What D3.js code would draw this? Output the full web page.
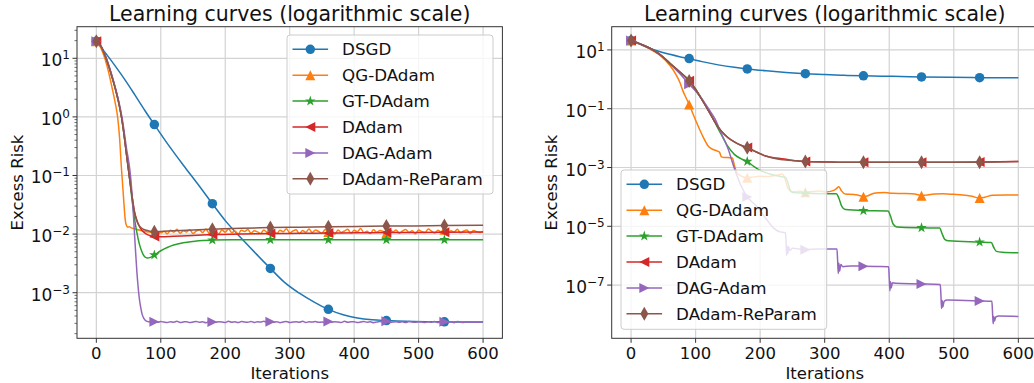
<!DOCTYPE html>
<html>
<head>
<meta charset="utf-8">
<script src="https://cdn.jsdelivr.net/npm/d3@7"></script>
<style>
  body { margin: 0; background: #fff; }
  svg text { font-family: "DejaVu Sans", sans-serif; fill: #111; }
</style>
</head>
<body>
<div id="chart"></div>
<script>
// series names / styling order (matplotlib tab10)
const names = ['DSGD', 'QG-DAdam', 'GT-DAdam', 'DAdam', 'DAG-Adam', 'DAdam-ReParam'];
const colors = ['#1f77b4', '#ff7f0e', '#2ca02c', '#d62728', '#9467bd', '#8c564b'];
const markerTypes = ['circle', 'triUp', 'star', 'triLeft', 'triRight', 'thinDiamond'];
const markIters = [0, 90, 180, 270, 360, 450, 540];

const xTicks = [0, 100, 200, 300, 400, 500, 600];
const leftYTicks = [1e-3, 1e-2, 1e-1, 1, 10];
const rightYTicks = [1e-7, 1e-5, 1e-3, 1e-1, 10];

// ---------- left panel: [iteration, excess risk] ----------
const dsgdLeft = [[0,19.5],[15,12],[30,7.2],[45,4.2],[60,2.35],[75,1.3],[90,0.74],[112,0.33],[135,0.15],[158,0.07],[180,0.033],[202,0.016],[225,0.0085],[248,0.0046],[270,0.0026],[292,0.0015],[315,0.00098],[338,0.00069],[360,0.00052],[383,0.00042],[405,0.00037],[428,0.000345],[450,0.000335],[480,0.000325],[510,0.00032],[540,0.000318],[570,0.000316],[600,0.000315]];

const qgLeftHead = [[0,19.5],[7,15],[14,9.3],[19,5.8],[24,3.3],[29,1.8],[33,1.0],[36,0.45],[39,0.13],[42,0.045],[45,0.017],[47,0.0138],[49,0.0131],[51,0.0134],[54,0.0128],[58,0.0125],[63,0.012],[70,0.0115],[78,0.011],[86,0.0107],[90,0.0105],[95,0.0104]];
// iterations 100..600 step 5
const qgLeftTail = [
  0.0105,0.0112,0.0101,0.0116,0.0108,0.0121,0.0103,0.0114,0.0109,0.0119,
  0.0102,0.0113,0.0118,0.0106,0.0122,0.0104,0.0115,0.0110,0.0101,0.0117,
  0.0108,0.0123,0.0106,0.0113,0.0100,0.0116,0.0111,0.0120,0.0104,0.0114,
  0.0109,0.0102,0.0118,0.0107,0.0121,0.0112,0.0103,0.0116,0.0110,0.0124,
  0.0105,0.0113,0.0119,0.0101,0.0115,0.0108,0.0122,0.0106,0.0117,0.0111,
  0.0103,0.0120,0.0109,0.0114,0.0100,0.0118,0.0107,0.0113,0.0121,0.0104,
  0.0116,0.0110,0.0125,0.0106,0.0112,0.0102,0.0119,0.0108,0.0115,0.0111,
  0.0104,0.0121,0.0109,0.0117,0.0103,0.0113,0.0120,0.0107,0.0114,0.0101,
  0.0118,0.0110,0.0106,0.0122,0.0112,0.0104,0.0116,0.0109,0.0119,0.0103,
  0.0114,0.0108,0.0121,0.0105,0.0113,0.0117,0.0102,0.0115,0.0110,0.0107,
  0.0111];

const gtLeft = [[0,19.5],[8,15.5],[16,9.5],[24,5.0],[30,2.9],[35,1.7],[39,1.0],[43,0.5],[47,0.22],[51,0.1],[55,0.042],[59,0.019],[63,0.0105],[67,0.0066],[71,0.0049],[75,0.0041],[79,0.0039],[84,0.004],[90,0.0044],[100,0.0052],[110,0.0059],[120,0.0065],[135,0.0071],[150,0.0075],[165,0.0078],[180,0.0079],[210,0.008],[270,0.008],[360,0.008],[450,0.008],[540,0.008],[600,0.008]];

const daLeft = [[0,19.5],[8,15.5],[16,9.5],[24,5.0],[30,2.9],[35,1.7],[39,1.0],[43,0.5],[47,0.22],[51,0.1],[55,0.048],[59,0.025],[63,0.017],[68,0.0128],[74,0.0107],[80,0.0097],[90,0.0091],[100,0.009],[120,0.0092],[150,0.0095],[180,0.0098],[225,0.01],[270,0.0102],[315,0.0103],[360,0.0104],[405,0.0105],[450,0.0106],[495,0.0107],[540,0.0108],[600,0.0109]];

const dagLeftHead = [[0,19.5],[8,15.5],[16,9.6],[24,5.2],[30,3.0],[35,1.8],[39,1.1],[43,0.58],[47,0.28],[50,0.18],[53,0.1],[55,0.055],[57,0.027],[59,0.011],[61,0.0048],[63,0.0022],[65,0.0012],[67,0.00075],[69,0.00055],[71,0.00043],[74,0.00036],[77,0.00033],[81,0.00032],[85,0.000318]];
// iterations 90..600 step 5
const dagLeftTail = [
  3.18e-4,3.12e-4,3.22e-4,3.15e-4,3.10e-4,3.20e-4,3.14e-4,3.25e-4,3.11e-4,3.17e-4,
  3.21e-4,3.09e-4,3.16e-4,3.23e-4,3.13e-4,3.19e-4,3.08e-4,3.24e-4,3.15e-4,3.12e-4,
  3.20e-4,3.17e-4,3.11e-4,3.26e-4,3.14e-4,3.18e-4,3.09e-4,3.22e-4,3.16e-4,3.13e-4,
  3.24e-4,3.10e-4,3.19e-4,3.15e-4,3.27e-4,3.12e-4,3.18e-4,3.14e-4,3.21e-4,3.08e-4,
  3.17e-4,3.23e-4,3.11e-4,3.16e-4,3.20e-4,3.13e-4,3.25e-4,3.10e-4,3.19e-4,3.15e-4,
  3.22e-4,3.12e-4,3.17e-4,3.09e-4,3.24e-4,3.14e-4,3.20e-4,3.16e-4,3.11e-4,3.26e-4,
  3.13e-4,3.18e-4,3.21e-4,3.10e-4,3.15e-4,3.23e-4,3.12e-4,3.19e-4,3.08e-4,3.17e-4,
  3.22e-4,3.14e-4,3.25e-4,3.11e-4,3.16e-4,3.20e-4,3.13e-4,3.18e-4,3.09e-4,3.24e-4,
  3.15e-4,3.12e-4,3.21e-4,3.17e-4,3.10e-4,3.19e-4,3.14e-4,3.23e-4,3.11e-4,3.16e-4,
  3.20e-4,3.13e-4,3.18e-4,3.08e-4,3.22e-4,3.15e-4,3.11e-4,3.19e-4,3.14e-4,3.17e-4,
  3.12e-4,3.16e-4,3.15e-4];

const repLeft = [[0,19.5],[8,15.5],[16,9.3],[24,4.9],[30,2.85],[35,1.68],[39,1.0],[43,0.5],[47,0.22],[51,0.1],[55,0.047],[59,0.024],[64,0.0155],[70,0.0127],[78,0.0116],[85,0.0111],[90,0.011],[100,0.0111],[120,0.0114],[150,0.0118],[180,0.0121],[225,0.0126],[270,0.0129],[315,0.0131],[360,0.0133],[405,0.0135],[450,0.0137],[495,0.0138],[540,0.014],[600,0.0142]];

// ---------- right panel ----------
const dsgdRight = [[0,21],[15,15.2],[30,11.2],[45,8.7],[60,7.1],[75,5.9],[90,5.06],[110,4.0],[135,3.1],[160,2.55],[180,2.26],[210,1.95],[240,1.72],[270,1.56],[300,1.45],[330,1.37],[360,1.31],[405,1.26],[450,1.21],[495,1.17],[540,1.14],[600,1.12]];

const qgRight = [[0,21],[15,15.5],[30,10.5],[45,6.5],[60,3.0],[70,1.4],[76,0.75],[80,0.42],[85,0.24],[90,0.14],[95,0.075],[102,0.032],[110,0.013],[120,0.0052],[127,0.0041],[133,0.0037],[137,0.0033],[140,0.0023],[145,0.0022],[150,0.0022],[157,0.0021],[160,0.0012],[164,0.00066],[170,0.00052],[180,0.00045],[190,0.00048],[200,0.0005],[210,0.00049],[220,0.00052],[228,0.00056],[234,0.0006],[238,0.00045],[242,0.00022],[246,0.00016],[252,0.00015],[262,0.000155],[270,0.000145],[282,0.000152],[292,0.00016],[302,0.000148],[312,0.00016],[318,0.00019],[322,0.00022],[326,0.00016],[332,0.000125],[345,0.00012],[355,0.00011],[360,0.000102],[366,0.000108],[375,0.00013],[385,0.000138],[393,0.00014],[405,0.000132],[420,0.00013],[435,0.000128],[445,0.000118],[450,0.00011],[457,0.000115],[470,0.000125],[484,0.000127],[500,0.000122],[514,0.000117],[528,0.000105],[540,0.000091],[548,0.000098],[560,0.000113],[580,0.000117],[600,0.000117]];

const gtRight = [[0,21],[15,15.8],[30,11.2],[45,7.0],[60,3.6],[75,1.85],[90,0.92],[100,0.47],[110,0.21],[120,0.09],[130,0.034],[140,0.013],[150,0.0052],[160,0.0028],[170,0.002],[180,0.0016],[190,0.0011],[200,0.0008],[215,0.0006],[230,0.0005],[239,0.00047],[243,0.0003],[246,0.00018],[250,0.00014],[270,0.000132],[300,0.000128],[318,0.000127],[322,0.00009],[326,0.00005],[332,0.000037],[360,0.000034],[398,0.000033],[402,0.000022],[406,0.000012],[412,0.0000095],[450,0.0000089],[478,0.0000087],[482,0.0000055],[486,0.0000036],[492,0.0000032],[540,0.0000029],[558,0.0000028],[562,0.0000019],[566,0.0000014],[575,0.0000013],[600,0.00000125]];

const daRight = [[0,21],[15,15.8],[30,11.2],[45,6.9],[60,3.5],[75,1.8],[90,0.9],[100,0.45],[110,0.2],[120,0.085],[130,0.035],[140,0.017],[150,0.0105],[160,0.0075],[170,0.0058],[180,0.0048],[195,0.0033],[210,0.0024],[225,0.0021],[240,0.0019],[255,0.0017],[270,0.0016],[300,0.00155],[330,0.0015],[360,0.0015],[405,0.0015],[450,0.00151],[495,0.00152],[540,0.00153],[600,0.0016]];

const dagRight = [[0,21],[15,15.8],[30,11.2],[45,6.8],[60,3.4],[75,1.6],[90,0.68],[100,0.4],[110,0.21],[120,0.1],[130,0.045],[140,0.014],[150,0.0045],[160,0.00095],[170,0.00025],[180,0.0001],[195,0.000047],[210,0.000017],[220,0.000009],[230,0.0000065],[239,0.000006],[240,0.0000035],[241,0.000001],[242,0.0000021],[243,0.0000012],[244,0.000002],[246,0.0000015],[250,0.0000018],[260,0.0000017],[270,0.0000016],[290,0.0000017],[319,0.0000017],[320,0.0000007],[321,0.00000025],[322,0.00000055],[323,0.0000003],[325,0.0000005],[328,0.00000042],[340,0.00000045],[360,0.00000044],[380,0.00000043],[399,0.00000042],[400,0.00000018],[401,0.000000064],[402,0.00000013],[403,0.00000008],[405,0.00000012],[410,0.000000115],[450,0.00000011],[479,0.000000105],[480,0.00000005],[481,0.000000016],[482,0.00000003],[483,0.000000018],[485,0.000000028],[490,0.000000031],[540,0.000000029],[559,0.000000028],[560,0.000000012],[561,0.0000000048],[562,0.0000000085],[563,0.000000006],[565,0.0000000082],[570,0.0000000088],[600,0.0000000085]];

const repRight = [[0,21],[15,15.8],[30,11.2],[45,6.9],[60,3.5],[75,1.8],[90,0.88],[100,0.44],[110,0.2],[120,0.084],[130,0.035],[140,0.017],[150,0.0104],[160,0.0074],[170,0.0057],[180,0.0047],[195,0.0033],[210,0.0024],[225,0.002],[240,0.0018],[255,0.0017],[270,0.0016],[300,0.00154],[330,0.0015],[360,0.0015],[405,0.0015],[450,0.0015],[495,0.00151],[540,0.00152],[600,0.0016]];

// glue noisy tails onto their heads
const zip = (iters, vals) => iters.map((it, i) => [it, vals[i]]);
const qgLeft = qgLeftHead.concat(zip(d3.range(100, 601, 5), qgLeftTail));
const dagLeft = dagLeftHead.concat(zip(d3.range(90, 601, 5), dagLeftTail));

const leftSeries = [dsgdLeft, qgLeft, gtLeft, daLeft, dagLeft, repLeft];
const rightSeries = [dsgdRight, qgRight, gtRight, daRight, dagRight, repRight];

const W = 1034, H = 383;
const svg = d3.select('#chart').append('svg')
  .attr('width', W).attr('height', H)
  .style('display', 'block');

function markerPath(type, s) {
  const h = s / 2;
  if (type === 'circle') {
    const r = h * 0.95;
    return `M${r},0A${r},${r} 0 1 1 ${-r},0A${r},${r} 0 1 1 ${r},0Z`;
  }
  if (type === 'triUp') return `M0,${-h}L${h},${h}L${-h},${h}Z`;
  if (type === 'triLeft') return `M${-h},0L${h},${-h}L${h},${h}Z`;
  if (type === 'triRight') return `M${h},0L${-h},${-h}L${-h},${h}Z`;
  if (type === 'thinDiamond') return `M0,${-h * 1.4}L${h * 0.8},0L0,${h * 1.4}L${-h * 0.8},0Z`;
  if (type === 'star') {
    let p = '';
    for (let k = 0; k < 10; k++) {
      const rr = k % 2 === 0 ? h * 1.1 : h * 1.1 * 0.382;
      const a = -Math.PI / 2 + k * Math.PI / 5;
      p += (k === 0 ? 'M' : 'L') + (rr * Math.cos(a)).toFixed(2) + ',' + (rr * Math.sin(a)).toFixed(2);
    }
    return p + 'Z';
  }
}

function powLabel(sel, v) {
  const e = Math.round(Math.log10(v));
  sel.append('tspan').text('10');
  sel.append('tspan')
    .attr('dy', -7)
    .style('font-size', '12px')
    .text(e < 0 ? '\u2212' + (-e) : String(e));
}

function drawPanel(cfg) {
  const x = d3.scaleLinear().domain([-30, 630]).range([cfg.x0, cfg.x1]);
  const y = d3.scaleLog().domain(cfg.yDomain).range([cfg.y1, cfg.y0]);
  const g = svg.append('g');

  const clipId = 'clip' + cfg.id;
  svg.append('clipPath').attr('id', clipId)
    .append('rect')
    .attr('x', cfg.x0).attr('y', cfg.y0)
    .attr('width', cfg.x1 - cfg.x0).attr('height', cfg.y1 - cfg.y0);

  // grid
  g.selectAll('.gx').data(xTicks).enter().append('line')
    .attr('x1', d => x(d)).attr('x2', d => x(d))
    .attr('y1', cfg.y0).attr('y2', cfg.y1)
    .attr('stroke', '#d3d3d3').attr('stroke-width', 1.2);
  g.selectAll('.gy').data(cfg.yTicks).enter().append('line')
    .attr('x1', cfg.x0).attr('x2', cfg.x1)
    .attr('y1', d => y(d)).attr('y2', d => y(d))
    .attr('stroke', '#d3d3d3').attr('stroke-width', 1.2);

  // curves + markers
  const line = d3.line().curve(d3.curveMonotoneX).x(d => x(d[0])).y(d => y(d[1]));
  const plot = g.append('g').attr('clip-path', `url(#${clipId})`);
  cfg.series.forEach((data, i) => {
    plot.append('path')
      .datum(data)
      .attr('d', line)
      .attr('fill', 'none')
      .attr('stroke', colors[i])
      .attr('stroke-width', 1.5)
      .attr('stroke-linejoin', 'round');
    const marks = data.filter(d => markIters.includes(d[0]));
    plot.selectAll(null).data(marks).enter().append('path')
      .attr('d', markerPath(markerTypes[i], 10))
      .attr('transform', d => `translate(${x(d[0])},${y(d[1])})`)
      .attr('fill', colors[i]);
  });

  // spines
  g.append('rect')
    .attr('x', cfg.x0).attr('y', cfg.y0)
    .attr('width', cfg.x1 - cfg.x0).attr('height', cfg.y1 - cfg.y0)
    .attr('fill', 'none').attr('stroke', '#333').attr('stroke-width', 1);

  // x ticks
  xTicks.forEach(t => {
    g.append('line')
      .attr('x1', x(t)).attr('x2', x(t))
      .attr('y1', cfg.y1).attr('y2', cfg.y1 + 4.5)
      .attr('stroke', '#333');
    g.append('text')
      .attr('x', x(t)).attr('y', cfg.y1 + 20.5)
      .attr('text-anchor', 'middle')
      .style('font-size', '16.5px')
      .text(t);
  });

  // y ticks (major)
  cfg.yTicks.forEach(t => {
    g.append('line')
      .attr('x1', cfg.x0 - 4.5).attr('x2', cfg.x0)
      .attr('y1', y(t)).attr('y2', y(t))
      .attr('stroke', '#333');
    const txt = g.append('text')
      .attr('x', cfg.x0 - 7).attr('y', y(t) + 8)
      .attr('text-anchor', 'end')
      .style('font-size', '17px');
    powLabel(txt, t);
  });

  // minor y ticks
  if (cfg.minor) {
    const [lo, hi] = cfg.yDomain;
    for (let e = Math.floor(Math.log10(lo)); e <= Math.ceil(Math.log10(hi)); e++) {
      for (let m = 2; m <= 9; m++) {
        const v = m * Math.pow(10, e);
        if (v < lo || v > hi) continue;
        g.append('line')
          .attr('x1', cfg.x0 - 2.5).attr('x2', cfg.x0)
          .attr('y1', y(v)).attr('y2', y(v))
          .attr('stroke', '#333').attr('stroke-width', 0.7);
      }
    }
  }

  // title + axis labels
  g.append('text')
    .attr('x', (cfg.x0 + cfg.x1) / 2).attr('y', 20.5)
    .attr('text-anchor', 'middle')
    .style('font-size', '20.5px')
    .text('Learning curves (logarithmic scale)');
  g.append('text')
    .attr('x', (cfg.x0 + cfg.x1) / 2).attr('y', 379)
    .attr('text-anchor', 'middle')
    .style('font-size', '16.5px')
    .text('Iterations');
  g.append('text')
    .attr('transform', `translate(${cfg.ylabelX},${(cfg.y0 + cfg.y1) / 2}) rotate(-90)`)
    .attr('text-anchor', 'middle')
    .style('font-size', '16.5px')
    .text('Excess Risk');

  // legend
  const lg = g.append('g');
  lg.append('rect')
    .attr('x', cfg.legend.x).attr('y', cfg.legend.y)
    .attr('width', cfg.legend.w).attr('height', cfg.legend.h)
    .attr('rx', 3)
    .attr('fill', '#fff').attr('fill-opacity', 0.8)
    .attr('stroke', '#cccccc').attr('stroke-width', 1);
  names.forEach((n, i) => {
    const ly = cfg.legend.y + 14.3 + i * 25.9;
    const lx = cfg.legend.x + 5.5;
    lg.append('line')
      .attr('x1', lx).attr('x2', lx + 35.6)
      .attr('y1', ly).attr('y2', ly)
      .attr('stroke', colors[i]).attr('stroke-width', 1.5);
    lg.append('path')
      .attr('d', markerPath(markerTypes[i], 10))
      .attr('transform', `translate(${lx + 17.8},${ly})`)
      .attr('fill', colors[i]);
    lg.append('text')
      .attr('x', lx + 49.6).attr('y', ly + 6)
      .style('font-size', '16.7px')
      .text(n);
  });
}

drawPanel({
  id: 'L', x0: 77, x1: 502.4, y0: 26.7, y1: 338.3,
  yDomain: [Math.pow(10, -3.778), Math.pow(10, 1.539)],
  yTicks: leftYTicks, minor: true, series: leftSeries, ylabelX: 23.3,
  legend: { x: 287, y: 35, w: 206, h: 159 }
});

drawPanel({
  id: 'R', x0: 611.7, x1: 1037.7, y0: 26.7, y1: 338.3,
  yDomain: [Math.pow(10, -8.81), Math.pow(10, 1.79)],
  yTicks: rightYTicks, minor: false, series: rightSeries, ylabelX: 556.7,
  legend: { x: 621, y: 170, w: 205.7, h: 159.3 }
});
</script>
</body>
</html>
